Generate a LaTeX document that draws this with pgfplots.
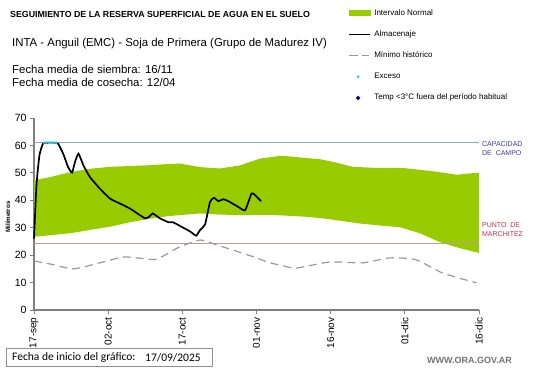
\documentclass[border=0pt]{standalone}
\usepackage{fontspec}
\setmainfont{Liberation Sans}
\newfontfamily\calibri{Carlito}
\usepackage{pgfplots}
\pgfplotsset{compat=1.18}
\usepgfplotslibrary{fillbetween}
\definecolor{bandgreen}{HTML}{99CC00}
\definecolor{capline}{HTML}{8FA3D0}
\definecolor{marchline}{HTML}{C39A9A}
\definecolor{minline}{HTML}{9A9A9A}
\definecolor{exceso}{HTML}{33C8DC}
\definecolor{capblue}{HTML}{3B3B9E}
\definecolor{marred}{HTML}{C0304A}
\definecolor{boxborder}{HTML}{9E8C8C}
\definecolor{axisgray}{HTML}{808080}
\begin{document}
\begin{tikzpicture}[x=1pt,y=1pt]
\path (0,0) rectangle (541,368);
% texts at top
\node[anchor=west,inner sep=0pt,font=\fontsize{8.8}{10}\selectfont\bfseries] at (10,354) {SEGUIMIENTO DE LA RESERVA SUPERFICIAL DE AGUA EN EL SUELO};
\node[anchor=west,inner sep=0pt,font=\fontsize{11.4}{13}\selectfont] at (12,324) {INTA - Anguil (EMC) - Soja de Primera (Grupo de Madurez IV)};
\node[anchor=west,inner sep=0pt,font=\fontsize{11.4}{13}\selectfont] at (12,299) {Fecha media de siembra: 16/11};
\node[anchor=west,inner sep=0pt,font=\fontsize{11.4}{13}\selectfont] at (12,286) {Fecha media de cosecha: 12/04};
\begin{axis}[
  at={(34pt,58pt)}, anchor=south west,
  scale only axis, width=445pt, height=192pt,
  xmin=0, xmax=90, ymin=0, ymax=70,
  axis lines=left, axis line style={-, axisgray, line width=1.2pt},
  xtick={0,15,30,45,60,75,90},
  xticklabels={17-sep,02-oct,17-oct,01-nov,16-nov,01-dic,16-dic},
  x tick label style={rotate=90, anchor=east, font=\fontsize{10}{12}\selectfont},
  ytick={0,10,...,70},
  y tick label style={font=\fontsize{10.5}{12}\selectfont},
  /pgf/number format/assume math mode=true,
  tick align=outside, major tick length=4pt,
  tick style={axisgray, line width=0.8pt},
  clip=false,
  legend cell align=left,
  legend style={at={(axis description cs:0.706,1.573)}, anchor=north west,
    draw=none, fill=none, inner sep=0pt, row sep=11.2pt,
    font=\fontsize{8}{9}\selectfont,
    nodes={inner sep=1pt, text height=6pt, text depth=2pt}},
]
\addplot[name path=up, draw=none, forget plot] coordinates {
(0,47.3) (3.4,48.5) (7.4,50.3) (11.3,51.5) (15.4,52.2) (19.4,52.5) (23.5,52.8)
(27,53.2) (29.5,53.4) (33.6,52.1) (37.6,51.6) (41.6,52.7) (45.7,55.2) (49.8,56.2)
(51.8,56) (54.4,55.5) (57.8,55) (61,53.8) (64.5,52.2) (69.4,51.8) (74.6,51.8)
(81.5,50.4) (85.6,49.3) (88,49.8) (90,50)};
\addplot[name path=lo, draw=none, forget plot] coordinates {
(0,26.7) (3.4,27.3) (7.4,28) (11.3,29.2) (15.4,30.4) (19.4,32) (23.5,33.3)
(27,34.2) (29.5,34.6) (33.6,35.2) (37.6,34.8) (41.6,34.6) (47.7,34.7) (52,34.3)
(55,34) (58,33.5) (61,32.8) (66,31.5) (70,30.8) (74,30.2) (78,28) (82,24.8)
(86,22.6) (90,20.8)};
\addplot[bandgreen, forget plot] fill between[of=up and lo];
% capacidad de campo / punto de marchitez
\addplot[capline, line width=0.9pt, forget plot] coordinates {(0,61) (90,61)};
\addplot[marchline, line width=1.1pt, forget plot] coordinates {(0,24.2) (90,24.2)};
% minimo historico
\addplot[minline, line width=1.2pt, dash pattern=on 8pt off 5pt, smooth, tension=0.4, forget plot] coordinates {
(0,17.9) (4,16.5) (8,15) (13.3,17.2) (18,19.3) (21.4,18.9) (24.8,18.5) (29,22.6)
(33.6,25.5) (37,23.7) (44.4,19.4) (47.5,17.3) (50,16.3) (53,15.3) (59.8,17.5)
(66.5,17.2) (72,19) (77.3,18.3) (82.6,13.5) (89.5,9.9)};
% almacenaje
\addplot[black, line width=1.7pt, smooth, tension=0.3, forget plot] coordinates {
(0,26) (0.5,45.5) (1.1,56.4) (1.8,60.6) (2.5,61) (4.4,61) (4.9,60.6) (5.9,57)
(6.9,52.1) (7.7,50.1) (8.3,54) (9.0,57) (10.0,52.7) (11.3,48.5) (13.3,44.3)
(15.4,40.6) (17.4,38.8) (19.4,37) (21.4,34.6) (22.5,33.4) (23.3,34) (24,35.2)
(25.5,33.4) (27.2,32) (28.1,32) (30.2,30) (31.6,28.6) (32.8,27.1) (33.6,29.2)
(34.6,31.2) (35.6,39.4) (36.4,40.9) (37.3,39.7) (38.3,40.4) (39.3,39.7)
(41.3,37.6) (42.7,36.4) (44,42.5) (44.7,41.9) (45.9,39.7)};
% exceso
\addplot[only marks, mark=*, mark size=1.1pt, exceso, forget plot] coordinates {
(2.0,61) (2.5,61) (3.0,61) (3.5,61) (4.0,61) (4.5,61)};
% labels at right
\node[anchor=north west, align=left, inner sep=0pt, text=capblue, font=\fontsize{7}{9.5}\selectfont] at (axis cs:90.6,61.5) {CAPACIDAD\\DE\ \ CAMPO};
\node[anchor=north west, align=left, inner sep=0pt, text=marred, font=\fontsize{7}{9.5}\selectfont] at (axis cs:90.6,32) {PUNTO\ \ DE\\MARCHITEZ};
% legend
\addlegendimage{legend image code/.code={\fill[bandgreen] (0pt,-2.5pt) rectangle (21pt,2.5pt);}}
\addlegendentry{Intervalo Normal}
\addlegendimage{legend image code/.code={\draw[black, line width=1.5pt] (0pt,0pt) -- (21pt,0pt);}}
\addlegendentry{Almacenaje}
\addlegendimage{legend image code/.code={\draw[minline, line width=1pt] (0pt,0pt) -- (9pt,0pt) (13pt,0pt) -- (20pt,0pt);}}
\addlegendentry{Mínimo histórico}
\addlegendimage{legend image code/.code={\fill[exceso] (9pt,0pt) circle (1.3pt); \path (0pt,0pt) (24pt,0pt);}}
\addlegendentry{Exceso}
\addlegendimage{legend image code/.code={\fill[blue!70!black] (9pt,2pt) -- (11pt,0pt) -- (9pt,-2pt) -- (7pt,0pt) -- cycle; \path (0pt,0pt) (24pt,0pt);}}
\addlegendentry{Temp <3°C fuera del período habitual}
\end{axis}
% y label
\node[rotate=90, inner sep=0pt, font=\fontsize{6.2}{7}\selectfont\bfseries] at (8,151) {Milímetros};
% bottom box
\draw[boxborder, line width=0.8pt] (6,1.5) rectangle (212,20);
\node[anchor=west, inner sep=0pt, font=\calibri\fontsize{11.5}{13}\selectfont] at (12,10.5) {Fecha de inicio del gráfico:};
\node[anchor=west, inner sep=0pt, font=\calibri\fontsize{11.5}{13}\selectfont] at (145,10.5) {17/09/2025};
\node[anchor=west, inner sep=0pt, text=gray!90!black, font=\fontsize{9}{10}\selectfont\bfseries] at (427,8) {WWW.ORA.GOV.AR};
\end{tikzpicture}
\end{document}
